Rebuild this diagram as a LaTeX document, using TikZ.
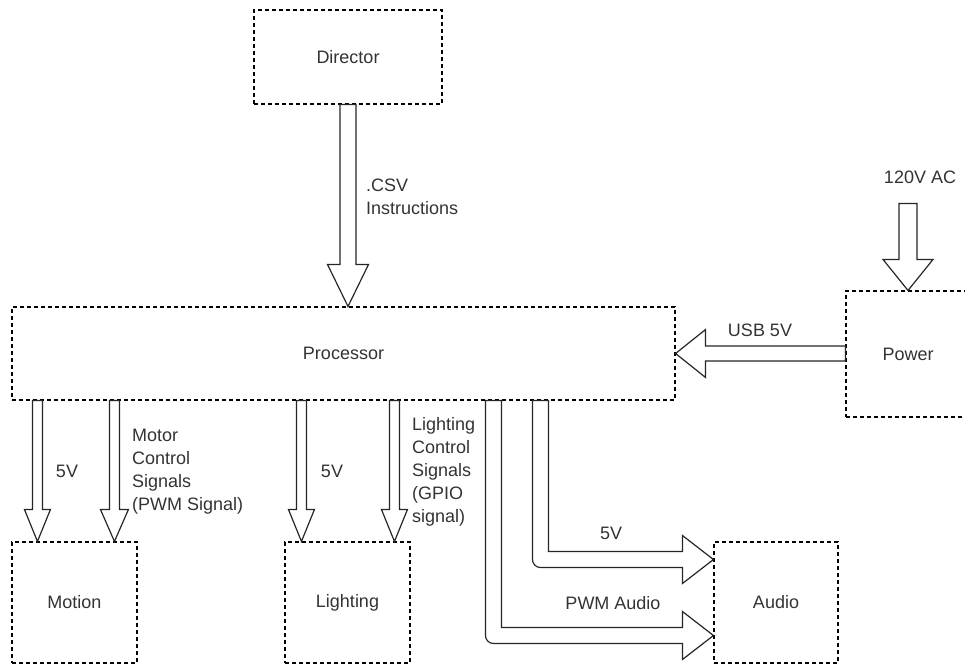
\documentclass[tikz,border=0pt]{standalone}
\usepackage{fontspec}
\setmainfont{Liberation Sans}
\usetikzlibrary{calc}

\newcommand{\blockdown}[5]{%
  \draw[blockarrow] ($(#2 |- #1)+(-#3,0)$) -- ($(#2)+(-#3,-#5)$) -- ($(#2)+(-#4,-#5)$) -- (#2)
    -- ($(#2)+(#4,-#5)$) -- ($(#2)+(#3,-#5)$) -- ($(#2 |- #1)+(#3,0)$) -- cycle;}
\newcommand{\blockleft}[5]{%
  \draw[blockarrow] ($(#2 -| #1)+(0,-#3)$) -- ($(#2)+(#5,-#3)$) -- ($(#2)+(#5,-#4)$) -- (#2)
    -- ($(#2)+(#5,#4)$) -- ($(#2)+(#5,#3)$) -- ($(#2 -| #1)+(0,#3)$) -- cycle;}
\newcommand{\blockbend}[6]{%
  \draw[blockarrow] ($(#1)+(-#3,0)$) -- ($(#1 |- #2)+(-#3,#3-#6)$) arc[start angle=180,end angle=90,radius=#6]
    -- ($(#2)+(-#5,#3)$) -- ($(#2)+(-#5,#4)$) -- (#2) -- ($(#2)+(-#5,-#4)$) -- ($(#2)+(-#5,-#3)$)
    -- ($(#1 |- #2)+(#3,-#3)$) -- ($(#1)+(#3,0)$) -- cycle;}

\begin{document}
\begin{tikzpicture}[x=1pt, y=-1pt,
  every node/.style={font=\fontsize{18}{23}\selectfont, text=black!80},
  box/.style={draw=black, dash pattern=on 4pt off 3pt, line width=1.1pt},
  lbl/.style={inner sep=0pt, align=left},
  blockarrow/.style={draw=black!85, line width=1.2pt, fill=white, line join=miter}]
\useasboundingbox (0,0) rectangle (965,664);
\clip (0,0) rectangle (965,664);

\node[box, minimum width=188pt, minimum height=94pt] (director) at (348,57) {Director};
\node[box, minimum width=663pt, minimum height=93pt] (proc) at (343.5,353.5) {Processor};
\node[box, minimum width=124pt, minimum height=126pt] (power) at (908,354) {Power};
\node[box, minimum width=125pt, minimum height=121pt] (motion) at (74.5,602.5) {Motion};
\node[box, minimum width=125pt, minimum height=121pt] (lighting) at (347.5,602.5) {Lighting};
\node[box, minimum width=124pt, minimum height=121pt] (audio) at (776,602.5) {Audio};

\coordinate (dirtip) at (director.south |- proc.north);
\coordinate (acin) at ($(power.north)+(0,-87)$);
\coordinate (mot5) at ($(motion.north west)+(26,0)$);
\coordinate (motsig) at ($(motion.north west)+(103,0)$);
\coordinate (lig5) at ($(lighting.north west)+(17,0)$);
\coordinate (ligsig) at ($(lighting.north west)+(110,0)$);
\coordinate (a5top) at ($(proc.south west)+(529,0)$);
\coordinate (pwmtop) at ($(proc.south west)+(482,0)$);
\coordinate (a5tip) at ($(audio.west)+(0,-43)$);
\coordinate (pwmtip) at ($(audio.west)+(0,33)$);

\blockdown{director.south}{dirtip}{8}{20.5}{42}
\blockdown{acin}{power.north}{9}{25}{31}
\blockleft{power.west}{proc.east}{7.5}{24}{30}
\blockdown{proc.south}{mot5}{5}{13}{32}
\blockdown{proc.south}{motsig}{5}{14}{32}
\blockdown{proc.south}{lig5}{5}{13}{32}
\blockdown{proc.south}{ligsig}{5}{13}{32}
\blockbend{a5top}{a5tip}{8}{24}{31}{8}
\blockbend{pwmtop}{pwmtip}{8}{24}{31}{8}

\node[lbl, anchor=west] (csv) at (366,197) {.CSV\\Instructions};
\node[lbl] (ac) at (920,177) {120V AC};
\node[lbl] (usb) at (760,330) {USB 5V};
\node[lbl] (m5v) at (67,471) {5V};
\node[lbl, anchor=west] (motlbl) at (132,472) {Motor\\Control\\Signals\\(PWM Signal)};
\node[lbl] (l5v) at (332,471) {5V};
\node[lbl, anchor=west] (liglbl) at (412,472) {Lighting\\Control\\Signals\\(GPIO\\signal)};
\node[lbl] (a5v) at (611,533) {5V};
\node[lbl] (pwm) at (613,603) {PWM Audio};
\end{tikzpicture}
\end{document}
